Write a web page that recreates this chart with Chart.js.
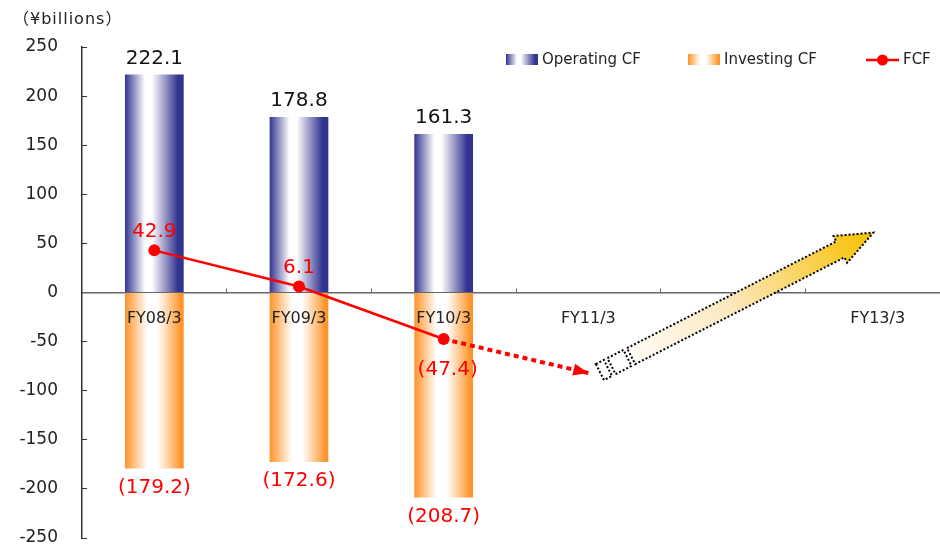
<!DOCTYPE html>
<html>
<head>
<meta charset="utf-8">
<script src="https://cdn.jsdelivr.net/npm/chart.js@4.4.1/dist/chart.umd.min.js"></script>
<style>
html, body { margin: 0; padding: 0; background: #fff; overflow: hidden; }
#wrap { width: 956px; height: 546px; }
</style>
</head>
<body>
<div id="wrap"><canvas id="chart" width="956" height="546"></canvas></div>
<script>
// values, in ¥ billions
const categories = ['FY08/3', 'FY09/3', 'FY10/3', 'FY11/3', '', 'FY13/3'];
const operatingCF = [222.1, 178.8, 161.3, null, null, null];
const investingCF = [-179.2, -172.6, -208.7, null, null, null];
const fcf = [42.9, 6.1, -47.4, null, null, null];
const fcfOutlook = [null, null, -47.4, -82, null, null];
const yTicks = [-250, -200, -150, -100, -50, 0, 50, 100, 150, 200, 250];
// outlook arrow ends: [category position, value]
const arrowStart = [3.08, -81];
const arrowEnd = [4.97, 61];
const unitLabel = '（¥billions）';

const NAVY = '#33348f';
const ORANGE = '#ff9328';
const RED = '#ff0000';
const FONT = '"DejaVu Sans", "Noto Sans CJK JP", sans-serif';
const BAR_PCT = 0.406;

function gradientStops(g, edge, stops) {
  g.addColorStop(0, edge);
  g.addColorStop(stops[0], '#ffffff');
  g.addColorStop(stops[1], '#ffffff');
  g.addColorStop(stops[2], edge);
  g.addColorStop(1, edge);
  return g;
}

function barFill(edge, stops) {
  return function (c) {
    const chart = c.chart;
    const xs = chart.scales.x;
    if (c.type !== 'data' || !xs) return edge;
    const cx = xs.getPixelForValue(c.dataIndex);
    const half = xs.width / categories.length * BAR_PCT / 2;
    if (!isFinite(cx) || !isFinite(half) || half <= 0) return edge;
    return gradientStops(chart.ctx.createLinearGradient(cx - half, 0, cx + half, 0), edge, stops);
  };
}

const navyStops = [0.34, 0.46, 0.9];
const orangeStops = [0.38, 0.56, 0.96];

// labels, legend and the outlook arrows
const decorations = {
  id: 'decorations',
  afterDraw(chart) {
    const ctx = chart.ctx;
    const xs = chart.scales.x, ys = chart.scales.y;
    ctx.save();

    // unit
    ctx.font = '16px ' + FONT;
    ctx.letterSpacing = '1px';
    ctx.fillStyle = '#222';
    ctx.textAlign = 'left';
    ctx.textBaseline = 'middle';
    ctx.fillText(unitLabel, 13, 20);
    ctx.letterSpacing = '0px';

    // red arrow head at the end of the dotted FCF line
    const om = chart.getDatasetMeta(3).data;
    const p1 = om[2], p2 = om[3];
    const a = Math.atan2(p2.y - p1.y, p2.x - p1.x);
    ctx.save();
    ctx.translate(p2.x, p2.y);
    ctx.rotate(a);
    ctx.fillStyle = RED;
    ctx.beginPath();
    ctx.moveTo(0, 0);
    ctx.lineTo(-15, -6);
    ctx.lineTo(-15, 6);
    ctx.closePath();
    ctx.fill();
    ctx.restore();

    // outlook arrow
    const sx = xs.getPixelForValue(arrowStart[0]), sy = ys.getPixelForValue(arrowStart[1]);
    const ex = xs.getPixelForValue(arrowEnd[0]), ey = ys.getPixelForValue(arrowEnd[1]);
    const len = Math.hypot(ex - sx, ey - sy);
    const hw = 9, headW = 15, headL = 37;
    ctx.save();
    ctx.translate(sx, sy);
    ctx.rotate(Math.atan2(ey - sy, ex - sx));
    ctx.setLineDash([2, 2]);
    ctx.lineWidth = 2;
    ctx.strokeStyle = '#000';
    ctx.fillStyle = '#fff';
    [[0, 9], [13, 31]].forEach(function (s) {
      ctx.fillRect(s[0], -hw, s[1] - s[0], hw * 2);
      ctx.strokeRect(s[0], -hw, s[1] - s[0], hw * 2);
    });
    const g = ctx.createLinearGradient(35, 0, len, 0);
    g.addColorStop(0, '#fffdf8');
    g.addColorStop(0.4, '#fce8c0');
    g.addColorStop(1, '#f8c000');
    ctx.beginPath();
    ctx.moveTo(35, -hw);
    ctx.lineTo(len - headL, -hw);
    ctx.lineTo(len - headL, -headW);
    ctx.lineTo(len, 0);
    ctx.lineTo(len - headL, headW);
    ctx.lineTo(len - headL, hw);
    ctx.lineTo(35, hw);
    ctx.closePath();
    ctx.fillStyle = g;
    ctx.fill();
    ctx.stroke();
    ctx.restore();

    // value labels
    ctx.font = '20px ' + FONT;
    ctx.textAlign = 'center';
    ctx.fillStyle = '#111';
    chart.getDatasetMeta(0).data.forEach(function (bar, i) {
      if (operatingCF[i] === null) return;
      ctx.fillText(operatingCF[i].toFixed(1), bar.x, bar.y - 16);
    });
    ctx.fillStyle = RED;
    chart.getDatasetMeta(1).data.forEach(function (bar, i) {
      if (investingCF[i] === null) return;
      ctx.fillText('(' + Math.abs(investingCF[i]).toFixed(1) + ')', bar.x, bar.y + 19);
    });
    chart.getDatasetMeta(2).data.forEach(function (pt, i) {
      const v = fcf[i];
      if (v === null) return;
      const txt = v < 0 ? '(' + Math.abs(v).toFixed(1) + ')' : v.toFixed(1);
      ctx.fillText(txt, pt.x + (v < 0 ? 4 : 0), v < 0 ? pt.y + 31 : pt.y - 19);
    });

    // legend
    const ds = chart.data.datasets;
    const ly = 60;
    ctx.font = '15px ' + FONT;
    ctx.textAlign = 'left';
    ctx.fillStyle = '#222';
    [[506, NAVY, navyStops, 0], [688, ORANGE, orangeStops, 1]].forEach(function (it) {
      const gr = gradientStops(ctx.createLinearGradient(it[0], 0, it[0] + 32, 0), it[1], it[2]);
      ctx.fillStyle = gr;
      ctx.fillRect(it[0], ly - 6, 32, 11);
      ctx.fillStyle = '#222';
      ctx.fillText(ds[it[3]].label, it[0] + 36, ly);
    });
    ctx.strokeStyle = RED;
    ctx.lineWidth = 2.5;
    ctx.beginPath();
    ctx.moveTo(866, ly);
    ctx.lineTo(899, ly);
    ctx.stroke();
    ctx.fillStyle = RED;
    ctx.beginPath();
    ctx.arc(882.5, ly, 5.5, 0, Math.PI * 2);
    ctx.fill();
    ctx.fillStyle = '#222';
    ctx.fillText(ds[2].label, 903, ly);

    ctx.restore();
  }
};

new Chart(document.getElementById('chart'), {
  data: {
    labels: categories,
    datasets: [
      {
        type: 'bar', label: 'Operating CF', data: operatingCF,
        backgroundColor: barFill(NAVY, navyStops), borderWidth: 0,
        grouped: false, categoryPercentage: 1, barPercentage: BAR_PCT, order: 2
      },
      {
        type: 'bar', label: 'Investing CF', data: investingCF,
        backgroundColor: barFill(ORANGE, orangeStops), borderWidth: 0,
        grouped: false, categoryPercentage: 1, barPercentage: BAR_PCT, order: 2
      },
      {
        type: 'line', label: 'FCF', data: fcf,
        borderColor: RED, borderWidth: 2.5, pointRadius: 6,
        pointBackgroundColor: RED, pointBorderWidth: 0, order: 0
      },
      {
        type: 'line', label: 'FCF outlook', data: fcfOutlook,
        borderColor: RED, borderWidth: 4, borderDash: [5, 4],
        pointRadius: 0, order: 1
      }
    ]
  },
  options: {
    responsive: false,
    animation: false,
    layout: { padding: { left: 0, right: 1, top: 47, bottom: 8 } },
    plugins: { legend: { display: false }, tooltip: { enabled: false } },
    scales: {
      x: {
        position: { y: 0 },
        offset: true,
        grid: { display: true, drawOnChartArea: false, drawTicks: true, tickLength: -5, color: '#666', offset: true },
        border: { display: true, color: '#666', width: 1.5 },
        ticks: { color: '#222', font: { family: FONT, size: 16 }, padding: 22, autoSkip: false, maxRotation: 0, z: 1 },
        afterFit: function (s) { s.height = 0; }
      },
      y: {
        min: -250,
        max: 250,
        afterBuildTicks: function (s) { s.ticks = yTicks.map(function (v) { return { value: v }; }); },
        grid: { drawOnChartArea: false, tickLength: -5, color: '#333' },
        border: { color: '#333', width: 1.5 },
        ticks: { color: '#222', font: { family: FONT, size: 17 }, padding: 29 },
        afterFit: function (s) { s.width = 82; s.paddingTop = 0; s.paddingBottom = 0; }
      }
    }
  },
  plugins: [decorations]
});
</script>
</body>
</html>
